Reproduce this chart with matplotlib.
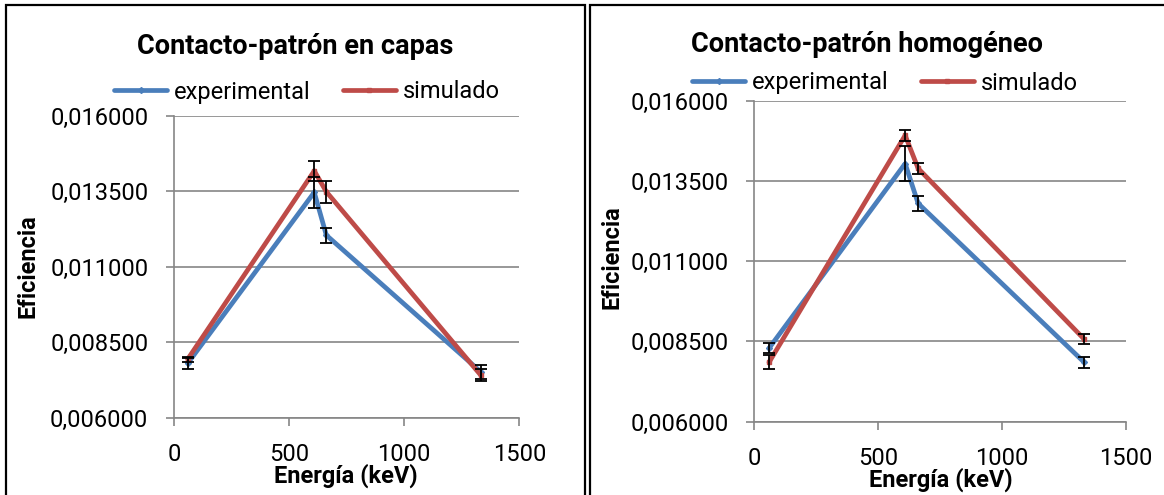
import matplotlib
matplotlib.use("Agg")
import matplotlib.pyplot as plt
from matplotlib.ticker import FuncFormatter
from matplotlib.patches import Rectangle

# ---- data ----
energy = [59.5, 609.3, 661.7, 1332.5]

capas_exp = [0.00780, 0.01347, 0.01205, 0.00752]
capas_exp_err = [0.00017, 0.00052, 0.00025, 0.00024]
capas_sim = [0.00794, 0.01418, 0.01349, 0.00741]
capas_sim_err = [0.00008, 0.00033, 0.00036, 0.00020]

homo_exp = [0.00829, 0.01404, 0.01280, 0.00785]
homo_exp_err = [0.00016, 0.00055, 0.00023, 0.00017]
homo_sim = [0.00785, 0.01492, 0.01389, 0.00857]
homo_sim_err = [0.00022, 0.00017, 0.00016, 0.00015]

x_ticks = [0, 500, 1000, 1500]
y_ticks = [0.006, 0.0085, 0.011, 0.0135, 0.016]
titles = ["Contacto-patrón en capas", "Contacto-patrón homogéneo"]
series_names = ["experimental", "simulado"]
xlabel = "Energía (keV)"
ylabel = "Eficiencia"

BLUE = "#4A7EBB"
RED = "#BE4B48"
GRID = "#868686"

plt.rcParams['font.family'] = ['Roboto', 'DejaVu Sans']

W, H = 1164, 495
fig = plt.figure(figsize=(W / 100, H / 100), dpi=100)


def fx(px):
    return px / W


def fy(py):
    return 1 - py / H


# panel borders
fig.patches.append(Rectangle((fx(6), fy(520)), fx(585 - 6), fy(5) - fy(520),
                             transform=fig.transFigure, fill=False,
                             edgecolor="black", lw=1.6))
fig.patches.append(Rectangle((fx(590), fy(520)), fx(1200 - 590), fy(5) - fy(520),
                             transform=fig.transFigure, fill=False,
                             edgecolor="black", lw=1.6))

panels = [
    dict(box=(174, 519.3, 116, 417.7), data=(capas_exp, capas_exp_err, capas_sim, capas_sim_err),
         title_xy=(295, 46), leg_xy=(307, 92), ylab_xy=(27.5, 266), xlab_xy=(346, 476)),
    dict(box=(754.3, 1125.7, 100.7, 421.7), data=(homo_exp, homo_exp_err, homo_sim, homo_sim_err),
         title_xy=(867, 45), leg_xy=(885, 83), ylab_xy=(612, 257), xlab_xy=(941, 480)),
]

fmt = FuncFormatter(lambda v, p: ("%.6f" % v).replace(".", ","))

for i, pnl in enumerate(panels):
    x0, x1, y0, y1 = pnl["box"]
    ax = fig.add_axes([fx(x0), fy(y1), fx(x1 - x0), fy(y0) - fy(y1)])
    ex, ee, si, se = pnl["data"]
    l1, = ax.plot(energy, ex, color=BLUE, lw=3.4, marker='D', ms=3,
                  solid_joinstyle='round', solid_capstyle='round', zorder=3,
                  label=series_names[0])
    l2, = ax.plot(energy, si, color=RED, lw=3.4, marker='s', ms=3,
                  solid_joinstyle='round', solid_capstyle='round', zorder=4,
                  label=series_names[1])
    ax.errorbar(energy, ex, yerr=ee, fmt='none', ecolor='black', elinewidth=1.3,
                capsize=4, capthick=1.3, zorder=6)
    ax.errorbar(energy, si, yerr=se, fmt='none', ecolor='black', elinewidth=1.3,
                capsize=4, capthick=1.3, zorder=6)
    ax.set_xlim(0, 1500)
    ax.set_ylim(0.006, 0.016)
    ax.set_xticks(x_ticks)
    ax.set_yticks(y_ticks)
    ax.yaxis.set_major_formatter(fmt)
    for s in ("top", "right"):
        ax.spines[s].set_visible(False)
    for s in ("left", "bottom"):
        ax.spines[s].set_color(GRID)
        ax.spines[s].set_linewidth(1.2)
    ax.grid(axis='y', color=GRID, lw=1.2)
    ax.set_axisbelow(True)
    ax.tick_params(axis='both', direction='out', length=5.5, width=1.2,
                   color=GRID, labelsize=17, pad=13, labelcolor='black')
    ax.patch.set_alpha(0)

    fig.text(fx(pnl["title_xy"][0]), fy(pnl["title_xy"][1]), titles[i],
             ha='center', va='center', fontsize=19.5, fontweight='bold')
    fig.text(fx(pnl["ylab_xy"][0]), fy(pnl["ylab_xy"][1]), ylabel,
             ha='center', va='center', rotation=90, fontsize=17, fontweight='bold')
    fig.text(fx(pnl["xlab_xy"][0]), fy(pnl["xlab_xy"][1]), xlabel,
             ha='center', va='center', fontsize=17, fontweight='bold')
    ax.legend(handles=[l1, l2], loc='center',
              bbox_to_anchor=(fx(pnl["leg_xy"][0]), fy(pnl["leg_xy"][1])),
              bbox_transform=fig.transFigure, ncol=2, frameon=False,
              fontsize=17, handlelength=2.25, handletextpad=0.3,
              columnspacing=1.35, borderpad=0, borderaxespad=0)

fig.savefig("out.png", dpi=100)
